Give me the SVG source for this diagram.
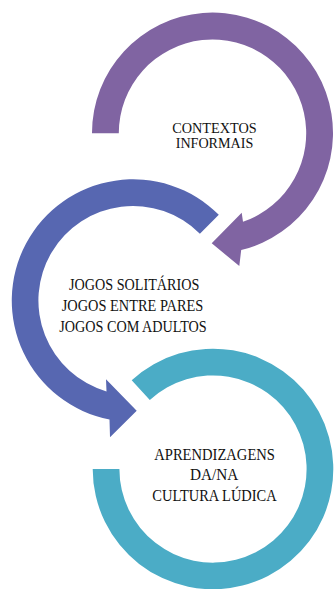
<svg xmlns="http://www.w3.org/2000/svg" width="334" height="589" viewBox="0 0 334 589">
<style>
.lbl{font-family:"Liberation Serif","Times New Roman",serif;font-size:17px;fill:#111;text-anchor:middle}
.sm{font-size:15px}
.purple{fill:#8064A2}
.blue{fill:#5767B1}
.teal{fill:#4BACC6}
</style>
<rect width="334" height="589" fill="#fff"/>
<g id="node-contextos">
<path class="purple" d="M92,133.2 A120.5,120.5 0 1 1 241.2,250.1 L239.3,266 L211.7,243.3 L241.7,212.7 L243,221.8 A93.7,93.7 0 1 0 118.8,133.2 Z"/>
<text class="lbl sm" x="214.5" y="133" textLength="84.4" lengthAdjust="spacingAndGlyphs">CONTEXTOS</text>
<text class="lbl sm" x="214.5" y="148" textLength="77.6" lengthAdjust="spacingAndGlyphs">INFORMAIS</text>
</g>
<g id="node-jogos">
<path class="blue" d="M218.8,214.8 A121.3,121.3 0 1 0 109.5,419.6 L110,437.3 L136.7,410.7 L106,379.3 L106.5,391.4 A94.6,94.6 0 1 1 199.9,233.7 Z"/>
<text class="lbl" x="134.2" y="290" textLength="130.3" lengthAdjust="spacingAndGlyphs">JOGOS SOLITÁRIOS</text>
<text class="lbl" x="132.5" y="311" textLength="141.6" lengthAdjust="spacingAndGlyphs">JOGOS ENTRE PARES</text>
<text class="lbl" x="133" y="331.7" textLength="147.4" lengthAdjust="spacingAndGlyphs">JOGOS COM ADULTOS</text>
</g>
<g id="node-aprendizagens">
<path class="teal" d="M131.7,380.3 A120.3,120.3 0 1 1 92.7,469 L119.4,469 A93.6,93.6 0 1 0 149.8,400 Z"/>
<text class="lbl" x="214.6" y="460" textLength="120.7" lengthAdjust="spacingAndGlyphs">APRENDIZAGENS</text>
<text class="lbl" x="214.2" y="480" textLength="48.3" lengthAdjust="spacingAndGlyphs">DA/NA</text>
<text class="lbl" x="214.5" y="500.7" textLength="124.4" lengthAdjust="spacingAndGlyphs">CULTURA LÚDICA</text>
</g>
</svg>
